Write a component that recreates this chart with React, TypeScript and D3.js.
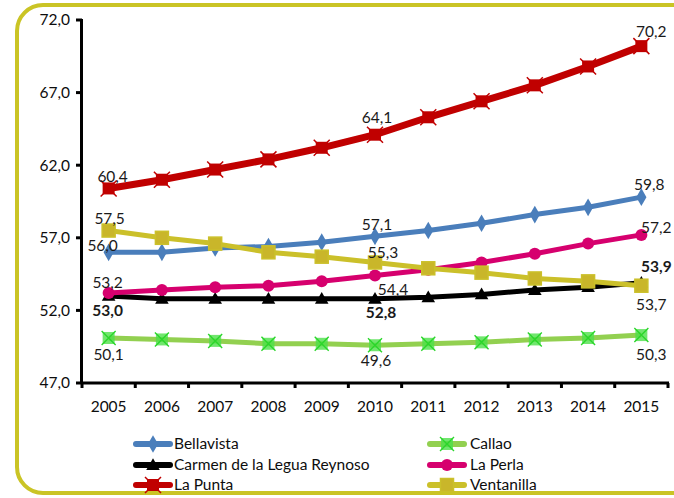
import * as d3 from "d3";

const years = ["2005", "2006", "2007", "2008", "2009", "2010", "2011", "2012", "2013", "2014", "2015"];
const yTicks = [47, 52, 57, 62, 67, 72];

const bellavista = [56.0, 56.0, 56.3, 56.4, 56.7, 57.1, 57.5, 58.0, 58.6, 59.1, 59.8];
const callao = [50.1, 50.0, 49.9, 49.7, 49.7, 49.6, 49.7, 49.8, 50.0, 50.1, 50.3];
const carmen = [53.0, 52.8, 52.8, 52.8, 52.8, 52.8, 52.9, 53.1, 53.4, 53.6, 53.9];
const laPerla = [53.2, 53.4, 53.6, 53.7, 54.0, 54.4, 54.8, 55.3, 55.9, 56.6, 57.2];
const laPunta = [60.4, 61.0, 61.7, 62.4, 63.2, 64.1, 65.3, 66.4, 67.5, 68.8, 70.2];
const ventanilla = [57.5, 57.0, 56.6, 56.0, 55.7, 55.3, 54.9, 54.6, 54.2, 54.0, 53.7];

type Series = { name: string; values: number[]; color: string; marker: string; width: number; markerFill: string };

const series: Series[] = [
  { name: "Bellavista", values: bellavista, color: "#4a7ebb", marker: "diamond", width: 5, markerFill: "#4a7ebb" },
  { name: "Callao", values: callao, color: "#92d050", marker: "x", width: 5, markerFill: "#4ee04a" },
  { name: "Carmen de la Legua Reynoso", values: carmen, color: "#000000", marker: "triangle", width: 5, markerFill: "#000000" },
  { name: "La Perla", values: laPerla, color: "#d6006e", marker: "circle", width: 5, markerFill: "#d6006e" },
  { name: "La Punta", values: laPunta, color: "#c00000", marker: "square", width: 7, markerFill: "#c00000" },
  { name: "Ventanilla", values: ventanilla, color: "#cbc02a", marker: "bigsquare", width: 5, markerFill: "#c9b62a" },
];

// data labels: series index, year index, offset from point, bold
const labels = [
  { s: 4, i: 0, dx: 4, dy: -12, bold: false },
  { s: 4, i: 5, dx: 2, dy: -17, bold: false },
  { s: 4, i: 10, dx: 10, dy: -15, bold: false },
  { s: 0, i: 0, dx: -6, dy: -7, bold: false },
  { s: 0, i: 5, dx: 2, dy: -12, bold: false },
  { s: 0, i: 10, dx: 8, dy: -13, bold: false },
  { s: 5, i: 0, dx: 1, dy: -12, bold: false },
  { s: 5, i: 5, dx: 8, dy: -10, bold: false },
  { s: 5, i: 10, dx: 10, dy: 19, bold: false },
  { s: 3, i: 0, dx: -1, dy: -10, bold: false },
  { s: 3, i: 5, dx: 18, dy: 14, bold: false },
  { s: 3, i: 10, dx: 15, dy: -7, bold: false },
  { s: 2, i: 0, dx: -1, dy: 15, bold: true },
  { s: 2, i: 5, dx: 6, dy: 14, bold: true },
  { s: 2, i: 10, dx: 15, dy: -16, bold: true },
  { s: 1, i: 0, dx: 0, dy: 17, bold: false },
  { s: 1, i: 5, dx: 1, dy: 15, bold: false },
  { s: 1, i: 10, dx: 10, dy: 19, bold: false },
];

const W = 674;
const H = 498;
const fmt = (v: number) => v.toFixed(1).replace(".", ",");
const FONT = "Lato, 'Liberation Sans', sans-serif";
const FS = 15.5;

function Marker({ kind, x, y, color, fill }: { kind: string; x: number; y: number; color: string; fill: string }) {
  if (kind === "diamond") {
    return <path d={d3.symbol(d3.symbolDiamond, 90)()!} transform={`translate(${x},${y})`} fill={fill} />;
  }
  if (kind === "triangle") {
    return <path d={d3.symbol(d3.symbolTriangle, 80)()!} transform={`translate(${x},${y + 1})`} fill={fill} />;
  }
  if (kind === "circle") {
    return <circle cx={x} cy={y} r={6} fill={fill} />;
  }
  if (kind === "square") {
    return (
      <g transform={`translate(${x},${y})`}>
        <rect x={-6} y={-6} width={12} height={12} fill={fill} />
        <path d="M-8,-8L8,8M-8,8L8,-8" stroke={fill} strokeWidth={1.5} />
      </g>
    );
  }
  if (kind === "bigsquare") {
    return (
      <rect x={x - 6.5} y={y - 6.5} width={13} height={13} fill={fill} stroke={color} strokeWidth={1.5} />
    );
  }
  // x marker (Callao)
  return (
    <g transform={`translate(${x},${y})`}>
      <rect x={-6} y={-6} width={12} height={12} fill={fill} opacity={0.8} />
      <path d="M-7,-7L7,7M-7,7L7,-7" stroke="#2bd62b" strokeWidth={1.4} />
    </g>
  );
}

export default function App() {
  const left = 82;
  const right = 668;
  const top = 20;
  const bottom = 383;

  const x = d3.scaleBand<string>().domain(years).range([left, right]);
  const y = d3.scaleLinear().domain([47, 72]).range([bottom, top]);
  const cx = (i: number) => (x(years[i]) ?? 0) + x.bandwidth() / 2;

  const line = d3
    .line<number>()
    .x((_, i) => cx(i))
    .y((d) => y(d));

  const bounds = [...years.map((yr) => x(yr) ?? 0), right];

  const legendCols = [
    { lx: 133, tx: 174 },
    { lx: 427, tx: 470 },
  ];
  const legendRows = [444, 465, 485];

  return (
    <svg
      width={W}
      height={H}
      style={{ position: "absolute", left: 0, top: 0, background: "#fff" }}
      fontFamily={FONT}
    >
      <rect x={17} y={5} width={700} height={488} rx={26} fill="none" stroke="#cac425" strokeWidth={4} />

      {/* y axis */}
      {yTicks.map((t) => (
        <g key={t}>
          <line x1={76} x2={82} y1={y(t)} y2={y(t)} stroke="#000" strokeWidth={3} />
          <text x={70} y={y(t)} dy="0.35em" textAnchor="end" fontSize={FS} fill="#0d0d0d">
            {fmt(t)}
          </text>
        </g>
      ))}
      <line x1={81.5} x2={81.5} y1={top - 1} y2={bottom + 1} stroke="#000" strokeWidth={3} />

      {/* x axis */}
      <line x1={left} x2={right + 1} y1={bottom} y2={bottom} stroke="#000" strokeWidth={3} />
      {bounds.map((b, i) => (
        <line key={i} x1={b} x2={b} y1={bottom} y2={bottom + 5} stroke="#000" strokeWidth={3} />
      ))}
      {years.map((yr, i) => (
        <text key={yr} x={cx(i)} y={407} dy="0.35em" textAnchor="middle" fontSize={FS} fill="#0d0d0d">
          {yr}
        </text>
      ))}

      {/* series */}
      {series.map((s) => (
        <g key={s.name}>
          <path d={line(s.values)!} fill="none" stroke={s.color} strokeWidth={s.width} strokeLinejoin="round" />
          {s.values.map((v, i) => (
            <Marker key={i} kind={s.marker} x={cx(i)} y={y(v)} color={s.color} fill={s.markerFill} />
          ))}
        </g>
      ))}

      {/* data labels */}
      {labels.map((l, k) => {
        const v = series[l.s].values[l.i];
        return (
          <text
            key={k}
            x={cx(l.i) + l.dx}
            y={y(v) + l.dy}
            dy="0.35em"
            textAnchor="middle"
            fontSize={FS}
            fontWeight={l.bold ? "bold" : "normal"}
            fill="#1a1a1a"
          >
            {fmt(v)}
          </text>
        );
      })}

      {/* legend */}
      {series.map((s, k) => {
        const col = legendCols[k % 2];
        const ry = legendRows[Math.floor(k / 2)];
        return (
          <g key={s.name}>
            <line x1={col.lx + 3} x2={col.lx + 37} y1={ry} y2={ry} stroke={s.color} strokeWidth={6} strokeLinecap="round" />
            <Marker kind={s.marker} x={col.lx + 20} y={ry} color={s.color} fill={s.markerFill} />
            <text x={col.tx} y={ry} dy="0.35em" fontSize={FS} fill="#0d0d0d">
              {s.name}
            </text>
          </g>
        );
      })}
    </svg>
  );
}
